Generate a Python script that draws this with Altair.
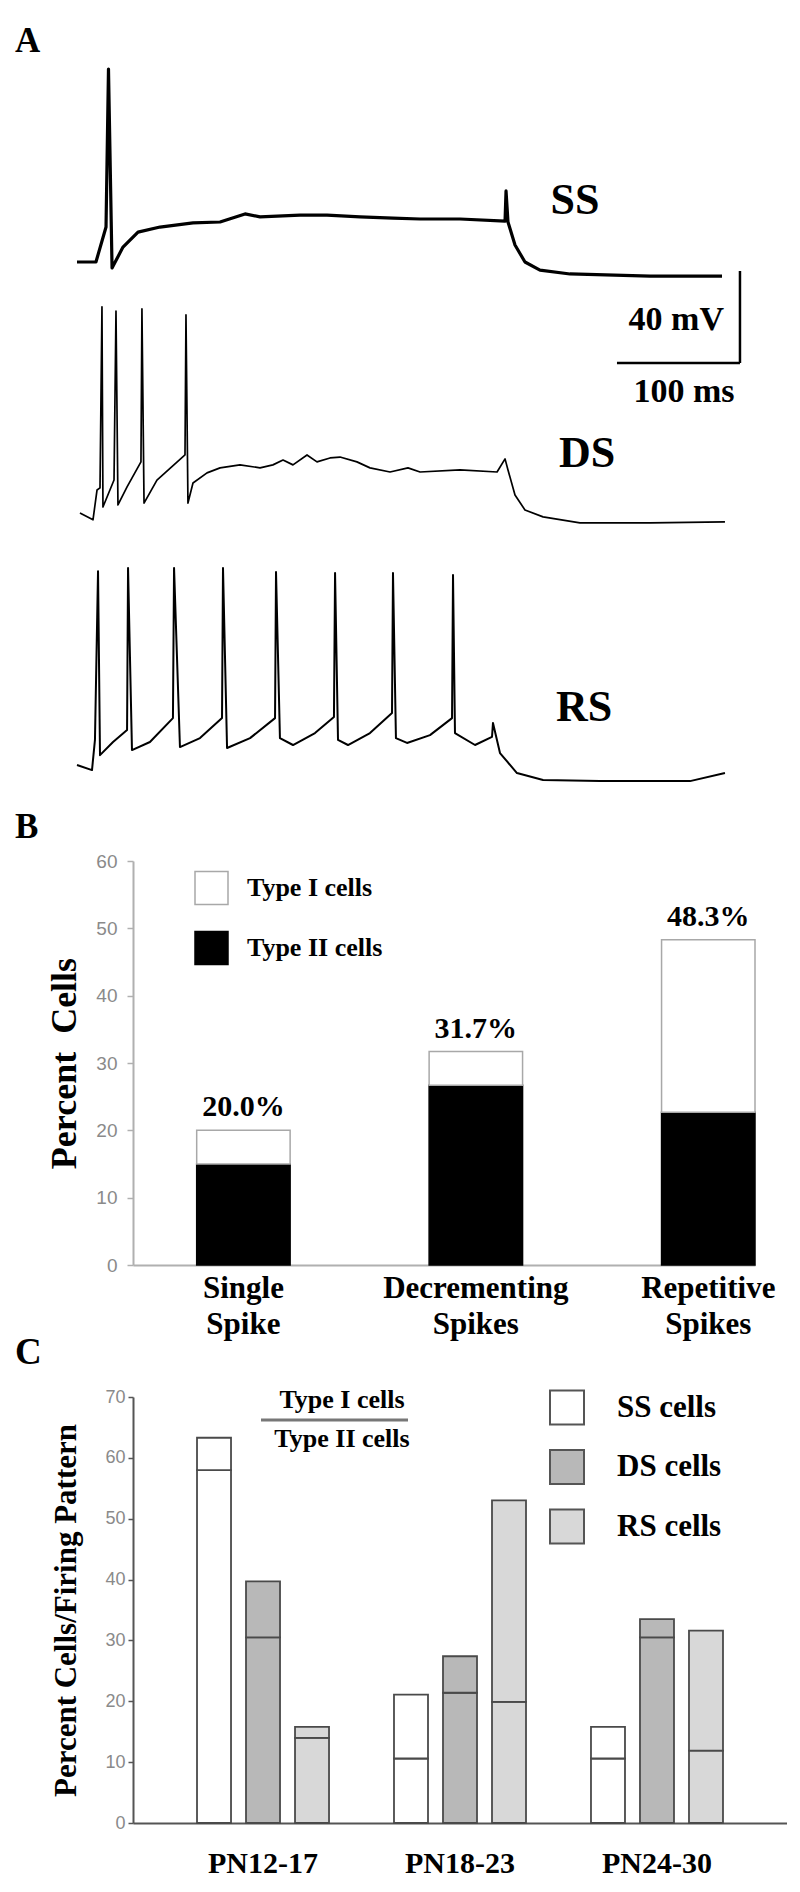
import altair as alt
import pandas as pd

SERIF = "Liberation Serif"
SANS = "Liberation Sans"

# ---------------- Panel A: membrane potential traces (ms, mV) ----------------
ss_t = [0.0, 15.4, 23.6, 25.6, 28.5, 37.4, 49.6, 67.5, 94.3, 116.3, 136.6, 148.8, 181.3,
        203.3, 230.1, 256.9, 278.9, 311.4, 348.0, 348.8, 350.4, 356.1, 364.2, 376.4,
        400.8, 465.9, 524.4]
ss_v = [-65.0, -65.0, -49.8, 18.9, -67.6, -58.5, -52.0, -49.8, -48.0, -47.6, -44.1, -45.4,
        -44.6, -44.6, -45.4, -45.9, -46.3, -46.3, -47.2, -34.1, -47.6, -57.6, -65.0,
        -68.5, -70.2, -71.1, -71.1]

ds_t = [2.4, 13.0, 16.3, 18.7, 20.3, 21.1, 30.1, 31.7, 33.3, 40.7, 52.0, 52.8, 54.5, 65.0,
        87.8, 88.6, 90.2, 94.3, 105.7, 116.3, 132.5, 148.8, 159.3, 167.5, 175.6, 187.0,
        195.1, 205.7, 213.8, 227.6, 238.2, 254.5, 269.1, 278.9, 311.4, 341.5, 348.0,
        350.4, 356.1, 364.2, 378.9, 408.9, 465.9, 526.8]
ds_v = [-65.0, -68.0, -55.0, -54.1, 24.6, -62.4, -50.7, 22.8, -61.5, -53.7, -42.8, 23.7,
        -60.7, -50.7, -39.8, 21.1, -60.7, -52.0, -47.6, -45.4, -44.1, -45.4, -44.1, -42.0,
        -44.1, -39.8, -42.8, -41.1, -40.7, -42.8, -45.4, -47.2, -45.4, -47.2, -46.3, -47.2,
        -41.5, -46.3, -57.2, -63.7, -66.7, -69.3, -69.3, -68.9]

rs_t = [0.0, 12.2, 14.6, 17.1, 18.7, 29.3, 40.7, 41.5, 44.7, 59.3, 78.0, 78.9, 83.7, 100.0,
        117.9, 118.7, 122.0, 140.7, 161.0, 161.8, 165.0, 175.6, 193.5, 208.9, 209.8, 212.2,
        220.3, 238.2, 256.1, 256.9, 259.3, 268.3, 287.0, 304.9, 305.7, 307.3, 323.6, 337.4,
        338.2, 343.9, 357.7, 378.9, 425.2, 498.4, 526.8]
rs_v = [-65.0, -67.2, -54.1, 19.3, -60.7, -55.0, -49.8, 20.7, -58.5, -55.0, -44.6, 20.7,
        -57.2, -53.3, -44.6, 20.7, -57.6, -53.3, -44.6, 18.9, -53.3, -56.3, -51.1, -44.1,
        18.5, -54.1, -56.3, -51.1, -42.4, 18.5, -53.3, -55.4, -52.0, -44.6, 17.6, -51.1,
        -56.3, -52.8, -46.7, -59.8, -68.5, -71.5, -72.0, -72.0, -68.5]

scalebar_ms = 100
scalebar_mv = 40

# ---------------- Panel B ----------------
b_categories = ["Single Spike", "Decrementing Spikes", "Repetitive Spikes"]
b_total = [20.0, 31.7, 48.3]
b_type2 = [15.0, 26.7, 22.7]
b_parts = ["Type I cells", "Type II cells"]

# ---------------- Panel C ----------------
c_groups = ["PN12-17", "PN18-23", "PN24-30"]
c_patterns = ["SS cells", "DS cells", "RS cells"]
c_ss_total = [63.3, 21.1, 15.8]
c_ss_type2 = [58.0, 10.6, 10.6]
c_ds_total = [39.7, 27.4, 33.5]
c_ds_type2 = [30.5, 21.4, 30.5]
c_rs_total = [15.8, 53.0, 31.6]
c_rs_type2 = [14.0, 19.9, 11.9]

# ---------------- layout (pixels / scale settings) ----------------
A_W, A_H = 612, 705
B_W, B_H = 622, 404
C_W, C_H = 654, 426
trace_offset = {"SS": 0.0, "DS": -109.1, "RS": -218.7}
trace_width = {"SS": 3.2, "DS": 1.7, "RS": 2.0}
sb_corner_t, sb_corner_v = 539.0, -108.9

one = pd.DataFrame({"k": [0]})


def label(text, x, y, size, align="center", baseline="middle", color="black",
          font=SERIF, weight="bold"):
    return alt.Chart(one).mark_text(
        text=text, align=align, baseline=baseline, font=font, fontSize=size,
        fontWeight=weight, color=color
    ).encode(x=alt.value(x), y=alt.value(y))


# ---- Panel A ----
xA = alt.Scale(domain=[45.53, 543.09], nice=False, zero=False)
yA = alt.Scale(domain=[-268.04, 38.48], nice=False, zero=False)

traces = {"SS": (ss_t, ss_v), "DS": (ds_t, ds_v), "RS": (rs_t, rs_v)}
a_layers = []
for name in ["SS", "DS", "RS"]:
    t, v = traces[name]
    df = pd.DataFrame({"t": t, "v": v, "i": list(range(len(t)))})
    df["vd"] = df["v"] + trace_offset[name]
    a_layers.append(
        alt.Chart(df).mark_line(color="black", strokeWidth=trace_width[name],
                                strokeJoin="round", clip=False).encode(
            x=alt.X("t:Q", scale=xA, axis=None),
            y=alt.Y("vd:Q", scale=yA, axis=None),
            order="i:Q",
        )
    )

sb = pd.DataFrame({"t0": [sb_corner_t - scalebar_ms], "t1": [sb_corner_t],
                   "v0": [sb_corner_v], "v1": [sb_corner_v + scalebar_mv]})
a_layers.append(alt.Chart(sb).mark_rule(color="black", strokeWidth=2.5).encode(
    x=alt.X("t0:Q", scale=xA, axis=None), x2="t1:Q",
    y=alt.Y("v0:Q", scale=yA, axis=None)))
a_layers.append(alt.Chart(sb).mark_rule(color="black", strokeWidth=2.5).encode(
    x=alt.X("t1:Q", scale=xA, axis=None),
    y=alt.Y("v0:Q", scale=yA, axis=None), y2="v1:Q"))

a_layers += [
    label("SS", 442, 177, 44),
    label("DS", 454, 430, 44),
    label("RS", 451, 684, 44),
    label("40 mV", 591, 296, 34, align="right"),
    label("100 ms", 551, 368, 34),
    label("A", -118, 0, 35, align="left", baseline="top"),
]
panelA = alt.layer(*a_layers).properties(width=A_W, height=A_H)

# ---- Panel B ----
brows = []
for cat, tot, t2 in zip(b_categories, b_total, b_type2):
    brows.append({"cat": cat, "part": "Type II cells", "lo": 0.0, "hi": t2})
    brows.append({"cat": cat, "part": "Type I cells", "lo": t2, "hi": tot})
bdf = pd.DataFrame(brows)
btext = pd.DataFrame({"cat": b_categories, "total": b_total,
                      "label": [f"{v:.1f}%" for v in b_total]})

xB = alt.Scale(domain=b_categories, paddingInner=0.598, paddingOuter=0.137, align=1)
yB = alt.Scale(domain=[0, 60], nice=False)

b_bars = alt.Chart(bdf).mark_bar(strokeWidth=1.5).encode(
    x=alt.X("cat:N", sort=b_categories, scale=xB, axis=alt.Axis(
        title=None, labelAngle=0, labelExpr="split(datum.label, ' ')",
        labelFont=SERIF, labelFontWeight="bold", labelFontSize=31, labelColor="black",
        labelLineHeight=36, labelPadding=8, ticks=False, tickSize=0,
        domainColor="#b0b0b0", domainWidth=2, labelLimit=400)),
    y=alt.Y("hi:Q", scale=yB, axis=alt.Axis(
        values=[0, 10, 20, 30, 40, 50, 60], grid=False, domainColor="#b0b0b0",
        domainWidth=2, tickColor="#b0b0b0", tickWidth=1.5, tickSize=6,
        labelColor="#8a8a8a", labelFont=SANS, labelFontSize=19, labelPadding=10,
        title="Percent\u00a0 Cells", titleFont=SERIF, titleFontWeight="bold",
        titleFontSize=36, titleColor="black", titleAngle=270, titleX=-69, titleY=202,
        titleAlign="center", titleBaseline="middle")),
    y2="lo:Q",
    color=alt.Color("part:N", scale=alt.Scale(domain=b_parts, range=["white", "black"]),
                    legend=alt.Legend(
                        orient="none", legendX=61, legendY=9.5, title=None,
                        symbolType="square", symbolSize=1089, symbolStrokeColor="#999999",
                        symbolStrokeWidth=1.5, symbolOpacity=1, labelFont=SERIF,
                        labelFontWeight="bold", labelFontSize=26, labelColor="black",
                        labelOffset=18, rowPadding=21, padding=0, labelLimit=400)),
    stroke=alt.Stroke("part:N", scale=alt.Scale(domain=b_parts,
                                                range=["#a8a8a8", "black"]), legend=None),
)
b_text = alt.Chart(btext).mark_text(
    dy=-23, font=SERIF, fontWeight="bold", fontSize=30, baseline="middle", color="black"
).encode(x=alt.X("cat:N", sort=b_categories, scale=xB), y=alt.Y("total:Q", scale=yB),
         text="label:N")
panelB = alt.layer(b_bars, b_text, label("B", -118, -34.5, 35, align="left")).properties(
    width=B_W, height=B_H)

# ---- Panel C ----
c_tot = {"SS cells": c_ss_total, "DS cells": c_ds_total, "RS cells": c_rs_total}
c_t2 = {"SS cells": c_ss_type2, "DS cells": c_ds_type2, "RS cells": c_rs_type2}
crows = []
for pat in c_patterns:
    for g, tot, t2 in zip(c_groups, c_tot[pat], c_t2[pat]):
        crows.append({"grp": g, "pat": pat, "part": "Type II", "lo": 0.0, "hi": t2})
        crows.append({"grp": g, "pat": pat, "part": "Type I", "lo": t2, "hi": tot})
cdf = pd.DataFrame(crows)

c_bars = alt.Chart(cdf).mark_bar(stroke="#4a4a4a", strokeWidth=1.8).encode(
    x=alt.X("grp:N", sort=c_groups, scale=alt.Scale(paddingInner=0, paddingOuter=0.16),
            axis=alt.Axis(title=None, labelAngle=0, labelFont=SERIF, labelFontWeight="bold",
                          labelFontSize=30, labelColor="black", labelPadding=25,
                          ticks=False, tickSize=0, domainColor="#555555", domainWidth=2,
                          labelLimit=300)),
    xOffset=alt.XOffset("pat:N", sort=c_patterns,
                        scale=alt.Scale(domain=c_patterns, paddingInner=0.306,
                                        paddingOuter=0.663)),
    y=alt.Y("hi:Q", scale=alt.Scale(domain=[0, 70], nice=False), axis=alt.Axis(
        values=[0, 10, 20, 30, 40, 50, 60, 70], grid=False, domainColor="#555555",
        domainWidth=2, tickColor="#555555", tickWidth=1.5, tickSize=5,
        labelColor="#8a8a8a", labelFont=SANS, labelFontSize=18, labelPadding=3,
        title="Percent Cells/Firing Pattern", titleFont=SERIF, titleFontWeight="bold",
        titleFontSize=31, titleColor="black", titleAngle=270, titleX=-67, titleY=213,
        titleAlign="center", titleBaseline="middle")),
    y2="lo:Q",
    color=alt.Color("pat:N", scale=alt.Scale(domain=c_patterns,
                                             range=["white", "#b8b8b8", "#d8d8d8"]),
                    legend=alt.Legend(
                        orient="none", legendX=416, legendY=-7.5, title=None,
                        symbolType="square", symbolSize=1156, symbolStrokeColor="#555555",
                        symbolStrokeWidth=2, symbolOpacity=1, labelFont=SERIF,
                        labelFontWeight="bold", labelFontSize=31, labelColor="black",
                        labelOffset=32, rowPadding=17.5, padding=0, labelLimit=400)),
)
c_frac_line = alt.Chart(one).mark_rule(color="#777777", strokeWidth=3).encode(
    x=alt.value(128), x2=alt.value(275), y=alt.value(23))
panelC = alt.layer(
    c_bars, c_frac_line,
    label("Type I cells", 209, 3, 26),
    label("Type II cells", 209, 42, 26),
    label("C", -118, -44, 37, align="left"),
).properties(width=C_W, height=C_H)

chart = alt.vconcat(panelA, panelB, panelC, spacing=132, bounds="flush").resolve_scale(
    x="independent", y="independent", color="independent", stroke="independent"
).properties(
    padding={"left": 7, "top": 16, "right": 0, "bottom": 0}, background="white"
).configure_view(stroke=None)

chart.save("out.html", embed_options={"renderer": "svg", "actions": False})
